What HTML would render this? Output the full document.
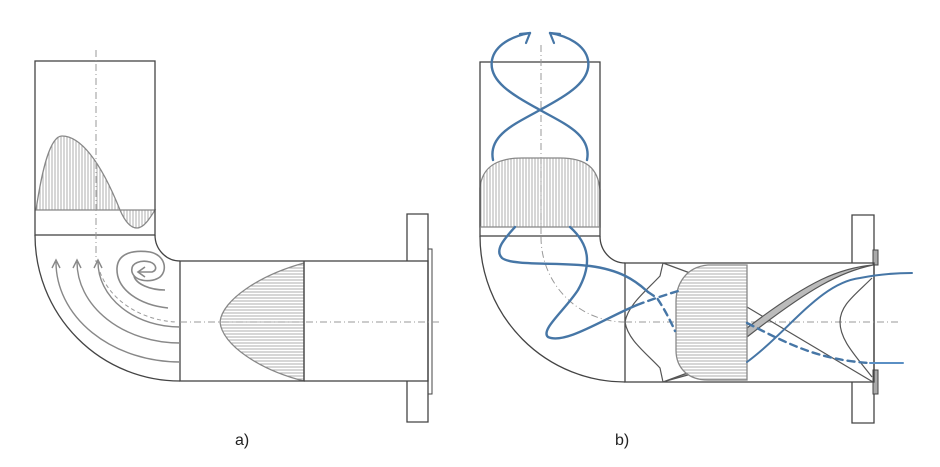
<!DOCTYPE html>
<html><head><meta charset="utf-8">
<style>
html,body{margin:0;padding:0;background:#fff;}
svg{display:block;}
text{font-family:"Liberation Sans","DejaVu Sans",sans-serif;}
</style></head>
<body>
<svg width="940" height="467" viewBox="0 0 940 467" xmlns="http://www.w3.org/2000/svg">
<defs>
<pattern id="vh" width="3" height="10" patternUnits="userSpaceOnUse"><rect width="3" height="10" fill="#fff"/><line x1="1" y1="0" x2="1" y2="10" stroke="#999" stroke-width="0.8"/></pattern>
<pattern id="hh" width="10" height="3" patternUnits="userSpaceOnUse"><rect width="10" height="3" fill="#fff"/><line x1="0" y1="1" x2="10" y2="1" stroke="#999" stroke-width="0.8"/></pattern>
</defs>

<!-- ===== a) ===== -->
<g fill="none" stroke="#444" stroke-width="1.3">
  <path d="M36,210 C42,170 50,136 62,136 C80,136 100,160 120,210 Z" fill="url(#vh)" stroke="#888"/>
  <path d="M120,210 C126,224 132,228 137,228 C144,228 150,218 155,210 Z" fill="url(#vh)" stroke="#888"/>
  <line x1="36" y1="210" x2="155" y2="210" stroke="#888" stroke-width="1"/>
  <rect x="35" y="61" width="120" height="174"/>
  <path d="M35,235 A145,146 0 0 0 180,381"/>
  <path d="M155,235 A25,26 0 0 0 180,261"/>
  <path d="M407,261 L407,214 L428,214 L428,422 L407,422 L407,381"/>
  <rect x="428" y="249" width="4" height="145" stroke-width="1"/>
  <path d="M304,263 C260,275 222,300 220,322 C222,345 260,370 304,381 Z" fill="url(#hh)" stroke="#888"/>
  <rect x="180" y="261" width="248" height="120"/>
  <line x1="304" y1="261" x2="304" y2="381"/>
  <line x1="96" y1="50" x2="96" y2="262" stroke="#999" stroke-width="1" stroke-dasharray="7,3,1,3"/>
  <line x1="180" y1="322" x2="442" y2="322" stroke="#999" stroke-width="1" stroke-dasharray="7,3,1,3"/>
  <path d="M100,272 C110,300 140,320 176,322" stroke="#999" stroke-width="1" stroke-dasharray="4,3"/>
  <g stroke="#888" stroke-width="1.4">
    <path d="M56,262 A124,100 0 0 0 180,362"/>
    <path d="M77,262 A103,81 0 0 0 180,343"/>
    <path d="M98,262 A82,65 0 0 0 180,327"/>
    <path d="M52,268 L56,260 L60,268 M73,268 L77,260 L81,268 M94,268 L98,260 L102,268"/>
  </g>
  <g stroke="#888" stroke-width="1.6">
    <path d="M168,308 C140,305 116,290 117,268 C118,252 135,250 150,252 C165,255 168,270 160,277 C152,283 135,282 132,272 C130,262 142,260 150,262 C156,264 158,270 152,272 L138,272"/>
    <path d="M145,267 L138,272 L145,277"/>
    <path d="M165,290 C150,290 136,284 134,276"/>
  </g>
</g>

<!-- ===== b) ===== -->
<g fill="none" stroke="#444" stroke-width="1.3">
  <path d="M480,227 L480,188 C482,166 498,158 522,158 L560,158 C586,158 598,168 600,190 L600,227 Z" fill="url(#vh)" stroke="#888"/>
  <rect x="480" y="62" width="120" height="174"/>
  <line x1="480" y1="227" x2="600" y2="227" stroke="#888" stroke-width="1"/>
  <path d="M480,236 A145,146 0 0 0 625,382"/>
  <path d="M600,236 A25,27 0 0 0 625,263"/>
  <path d="M852,263 L852,215 L874,215 L874,423 L852,423 L852,382"/>
  <rect x="873" y="250" width="5" height="15" fill="#aaa" stroke-width="1"/>
  <rect x="873" y="370" width="5" height="24" fill="#aaa" stroke-width="1"/>
  <rect x="625" y="263" width="249" height="119"/>
  <line x1="541" y1="45" x2="541" y2="237" stroke="#999" stroke-width="1" stroke-dasharray="7,3,1,3"/>
  <path d="M541,237 A84,85 0 0 0 625,322" stroke="#999" stroke-width="1" stroke-dasharray="7,3,1,3"/>
  <line x1="625" y1="322" x2="900" y2="322" stroke="#999" stroke-width="1" stroke-dasharray="7,3,1,3"/>
  <g stroke="#555" stroke-width="1.2">
    <path d="M663,263 L660,276 C645,292 628,305 625,322 C628,340 645,352 660,368 L663,382"/>
    <path d="M663,263 L690,273"/>
    <path d="M663,382 L690,372 L688,375 L666,381 Z" fill="#aaa"/>
    <path d="M747,307 L873,382"/>
    <path d="M873,265 C840,268 810,280 747,328 L747,337 C810,288 840,272 873,265 Z" fill="#bbb"/>
    <path d="M872,278 C855,295 840,305 840,322 C840,340 855,355 872,377"/>
  </g>
  <path d="M747,265 L708,265 C685,267 676,285 676,302 L676,350 C676,368 688,380 708,380 L747,380 Z" fill="url(#hh)" stroke="#888"/>
  <g stroke="#4676a6" stroke-width="2.4" stroke-linecap="round" stroke-linejoin="round">
    <path d="M493,160 C488,135 515,124 540,110 C565,96 592,82 588,60 C585,45 568,36 550,33"/>
    <path d="M587,160 C592,135 565,124 540,110 C515,96 488,82 492,60 C495,45 512,36 530,33"/>
    <path d="M520,34 L530,33 L526,43" stroke-width="2.2"/>
    <path d="M560,34 L550,33 L554,43" stroke-width="2.2"/>
    <path d="M515,227 C505,238 494,250 502,258 C512,266 560,262 590,266 C620,270 635,280 648,292"/>
    <path d="M648,292 L657,298 C665,310 670,320 675,331" stroke-dasharray="7,5"/>
    <path d="M570,227 C590,245 592,265 578,290 C565,310 540,330 548,337 C565,345 605,318 637,305"/>
    <path d="M637,305 C650,300 665,295 678,291" stroke-dasharray="7,5"/>
    <path d="M747,323 C790,345 820,360 870,363" stroke-dasharray="7,5"/>
    <path d="M870,363 L903,363" stroke="#5a8fc4" stroke-width="2"/>
    <path d="M747,362 C790,330 820,283 860,278 C880,274 895,273 912,273" stroke-width="2"/>
  </g>
</g>

<text x="235" y="445" font-size="16" fill="#222">a)</text>
<text x="615" y="445" font-size="16" fill="#222">b)</text>
</svg>
</body></html>
